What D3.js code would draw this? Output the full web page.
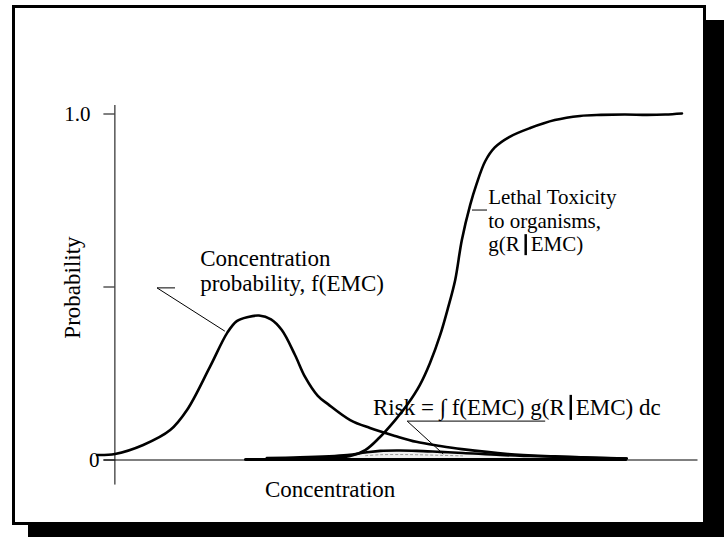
<!DOCTYPE html>
<meta charset="utf-8">
<title>Risk</title>
<style>
body { margin: 0; background: #fff; }
svg { display: block; }
.curve { fill: none; stroke: #000; stroke-width: 2.6px; stroke-linejoin: round; stroke-linecap: round; }
.leader { fill: none; stroke: #000; stroke-width: 1px; }
</style>
<svg width="724" height="537"></svg>
<script src="https://d3js.org/d3.v7.min.js"></script>
<script>

// concentration probability f(EMC)
var fX = [-0.5, 2.5, 7.2, 11.7, 14.5, 18.3, 21.2, 22.8, 24.7, 26.5, 28.5, 30.3, 32.5, 34.2, 36.3, 38, 41.7, 45, 49.2, 52.7, 56.7, 60.3, 68, 75.8, 83.3, 87.7];
var fY = [0.013, 0.016, 0.042, 0.085, 0.143, 0.267, 0.366, 0.400, 0.412, 0.416, 0.405, 0.374, 0.302, 0.238, 0.184, 0.160, 0.114, 0.091, 0.068, 0.051, 0.039, 0.030, 0.016, 0.009, 0.004, 0.003];

// lethal toxicity g(R|EMC)
var gX = [24.2, 33.3, 41.7, 44.2, 46.5, 49.2, 51.2, 53.3, 55, 56.7, 58, 59.2, 60.3, 61.7, 62.7, 64.2, 65.8, 68.2, 71.7, 75.8, 80, 83.5, 87.5, 91.2, 94.2, 97];
var gY = [0, 0.002, 0.01, 0.027, 0.062, 0.114, 0.158, 0.215, 0.279, 0.36, 0.438, 0.519, 0.634, 0.736, 0.793, 0.862, 0.902, 0.932, 0.958, 0.981, 0.993, 0.996, 0.997, 0.996, 0.997, 1.0];

// risk = f * g
var rX = [27.8, 33.3, 41.2, 44.2, 46.7, 50, 52.8, 56.7, 60.5, 66.7, 71.7, 80, 87.8];
var rY = [0.004, 0.006, 0.013, 0.02, 0.025, 0.026, 0.025, 0.022, 0.019, 0.013, 0.01, 0.006, 0.003];

var yTicks = [0, 0.5, 1];
var yTickLabels = ["0", "", "1.0"];

var serif = "'Liberation Serif', 'Times New Roman', serif";

var svg = d3.select("svg");

// shadow + frame
svg.append("rect").attr("x", 28).attr("y", 20).attr("width", 696).attr("height", 517).attr("fill", "#000");
svg.append("rect").attr("x", 13.5).attr("y", 6.5).attr("width", 691).attr("height", 517)
  .attr("fill", "#fff").attr("stroke", "#000").attr("stroke-width", 3);

var x = d3.scaleLinear().domain([0, 100]).range([100, 700]);
var y = d3.scaleLinear().domain([0, 1]).range([459.5, 113.5]);

function pts(xs, ys) {
  return xs.map(function(d, i) { return [d, ys[i]]; });
}

function label(tx, ty, str, size) {
  return svg.append("text")
    .attr("x", tx).attr("y", ty)
    .style("font-family", serif)
    .style("font-size", (size || 23) + "px")
    .attr("fill", "#000")
    .text(str);
}

var line = d3.line()
  .x(function(d) { return x(d[0]); })
  .y(function(d) { return y(d[1]); })
  .curve(d3.curveCatmullRom);

var area = d3.area()
  .x(function(d) { return x(d[0]); })
  .y0(y(0))
  .y1(function(d) { return y(d[1]); })
  .curve(d3.curveCatmullRom);

// y axis (line runs a bit past the ticks)
var yExt = d3.scaleLinear().domain([-0.071, 1.026]).range([y(-0.071), y(1.026)]);
var yAxis = svg.append("g")
  .attr("transform", "translate(" + x(2.4) + ",0)")
  .call(d3.axisLeft(yExt).tickValues(yTicks).tickSize(11).tickSizeOuter(0).tickPadding(4)
    .tickFormat(function(d, i) { return yTickLabels[i]; }));
yAxis.selectAll("text")
  .style("font-family", serif).style("font-size", "21px").attr("fill", "#000")
  .attr("dx", function(d) { return d === 1 ? -9 : 0; });
yAxis.selectAll("line, path").attr("stroke", "#000");

// x axis
var xExt = d3.scaleLinear().domain([0.5, 99.5]).range([x(0.5), x(99.5)]);
svg.append("g")
  .attr("transform", "translate(0," + y(0) + ")")
  .call(d3.axisBottom(xExt).tickValues([]).tickSizeOuter(0))
  .select("path").attr("stroke", "#000");

// risk shading
var risk = pts(rX, rY);
svg.append("path").datum(risk).attr("d", area).attr("fill", "#efefef");
svg.append("path")
  .datum(risk.filter(function(d) { return d[0] > 42 && d[0] < 62; }).map(function(d) { return [d[0], d[1] * 0.55]; }))
  .attr("d", line).attr("fill", "none").attr("stroke", "#999").attr("stroke-width", 1).attr("stroke-dasharray", "3,2");

// thick base under the curves
svg.append("line")
  .attr("x1", x(gX[0])).attr("x2", x(rX[rX.length - 1]))
  .attr("y1", y(0)).attr("y2", y(0))
  .attr("stroke", "#000").attr("stroke-width", 3);

svg.append("path").datum(risk).attr("class", "curve").attr("d", line).attr("stroke-width", 2.2);
svg.append("path").datum(pts(fX, fY)).attr("class", "curve").attr("d", line);
svg.append("path").datum(pts(gX, gY)).attr("class", "curve").attr("d", line);

// axis titles
label(0, 0, "Probability").attr("text-anchor", "middle")
  .attr("transform", "translate(80," + y(0.497) + ") rotate(-90)");
label(x(27.5), 497, "Concentration");

// annotation: f(EMC)
label(x(16.7), y(0.559), "Concentration");
label(x(16.7), y(0.559) + 25, "probability, f(EMC)");
svg.append("path").attr("class", "leader")
  .attr("d", d3.line()([[x(12.5), y(0.496)], [x(9.5), y(0.496)], [x(20.8), y(0.371)]]));

// annotation: g(R|EMC)
var lx = x(64.7), ly = y(0.738), lh = 23.5;
label(lx, ly, "Lethal Toxicity", 21);
label(lx, ly + lh, "to organisms,", 21);
var g1 = label(lx, ly + 2 * lh, "g(R", 21);
var w1 = g1.node().getComputedTextLength();
svg.append("line").attr("x1", lx + w1 + 6).attr("x2", lx + w1 + 6)
  .attr("y1", ly + 2 * lh - 17).attr("y2", ly + 2 * lh + 4).attr("stroke", "#000").attr("stroke-width", 2.5);
label(lx + w1 + 11, ly + 2 * lh, "EMC)", 21);
svg.append("path").attr("class", "leader")
  .attr("d", d3.line()([[x(62), y(0.721)], [x(64.5), y(0.721)]]));

// annotation: risk
var rxp = x(45.5), ryp = y(0.129);
var r1 = label(rxp, ryp, "Risk = \u222B f(EMC) g(R");
var w2 = r1.node().getComputedTextLength();
svg.append("line").attr("x1", rxp + w2 + 6).attr("x2", rxp + w2 + 6)
  .attr("y1", ryp - 20).attr("y2", ryp + 5).attr("stroke", "#000").attr("stroke-width", 2.5);
label(rxp + w2 + 11, ryp, "EMC) dc");
svg.append("path").attr("class", "leader").attr("stroke", "#888")
  .attr("d", d3.line()([[x(74.2), y(0.111)], [x(51.2), y(0.111)], [x(57.2), y(0.016)]]));

</script>
